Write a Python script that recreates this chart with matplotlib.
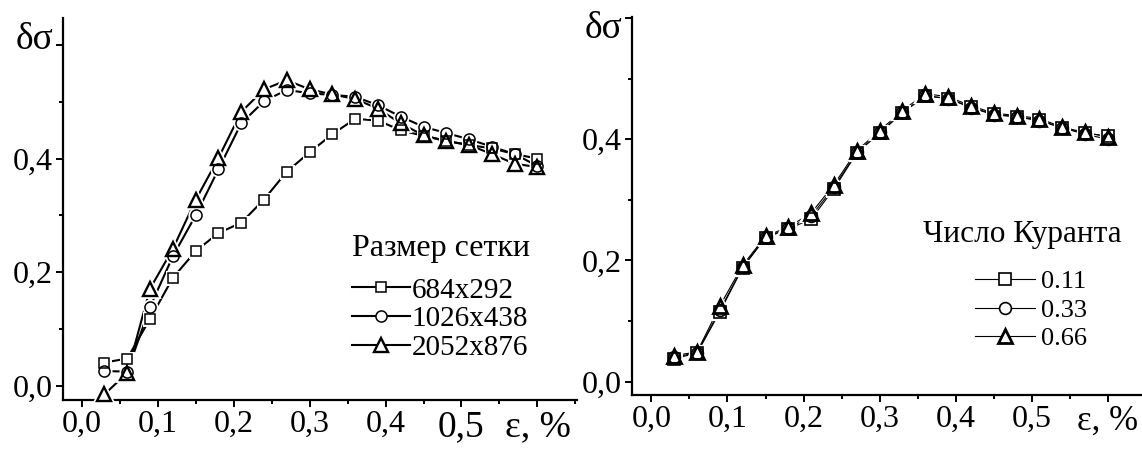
import matplotlib
matplotlib.use("Agg")
import matplotlib.pyplot as plt
from matplotlib.lines import Line2D
from matplotlib.ticker import MultipleLocator
from matplotlib.transforms import offset_copy

plt.rcParams["font.family"] = ["Liberation Serif", "DejaVu Serif"]

# strain, %
strain = [0.03, 0.06, 0.09, 0.12, 0.15, 0.18, 0.21, 0.24, 0.27, 0.30,
          0.33, 0.36, 0.39, 0.42, 0.45, 0.48, 0.51, 0.54, 0.57, 0.60]

# mesh-size study
grid_labels = ["684x292", "1026x438", "2052x876"]
grid_684 = [0.041, 0.048, 0.118, 0.190, 0.237, 0.269, 0.287, 0.328, 0.377, 0.411,
            0.443, 0.470, 0.467, 0.450, 0.440, 0.431, 0.424, 0.418, 0.408, 0.400]
grid_1026 = [0.026, 0.025, 0.139, 0.228, 0.300, 0.381, 0.462, 0.501, 0.521, 0.515,
             0.512, 0.509, 0.494, 0.474, 0.456, 0.445, 0.434, 0.421, 0.408, 0.387]
grid_2052 = [-0.015, 0.023, 0.171, 0.241, 0.327, 0.401, 0.482, 0.522, 0.538, 0.522,
             0.513, 0.505, 0.488, 0.462, 0.441, 0.431, 0.424, 0.408, 0.391, 0.385]

# Courant-number study
courant_labels = ["0.11", "0.33", "0.66"]
courant_011 = [0.038, 0.047, 0.115, 0.188, 0.237, 0.252, 0.268, 0.318, 0.377, 0.410,
               0.443, 0.471, 0.467, 0.453, 0.441, 0.437, 0.432, 0.418, 0.410, 0.405]
courant_033 = [0.040, 0.048, 0.118, 0.189, 0.238, 0.253, 0.273, 0.321, 0.378, 0.411,
               0.444, 0.472, 0.467, 0.452, 0.440, 0.437, 0.430, 0.419, 0.408, 0.400]
courant_066 = [0.043, 0.049, 0.125, 0.192, 0.240, 0.255, 0.278, 0.325, 0.381, 0.414,
               0.447, 0.475, 0.470, 0.455, 0.443, 0.439, 0.434, 0.420, 0.411, 0.404]

x_ticks = [0.0, 0.1, 0.2, 0.3, 0.4, 0.5, 0.6]
x_tick_labels = ["0,0", "0,1", "0,2", "0,3", "0,4", "0,5", "ε, %"]
y_ticks = [0.0, 0.2, 0.4, 0.6]
y_tick_labels = ["0,0", "0,2", "0,4", "δσ"]

markers = ["s", "o", "^"]


def style_axes(ax, xlim, ylim, tick_fs):
    ax.set_xlim(*xlim)
    ax.set_ylim(*ylim)
    for side in ("top", "right"):
        ax.spines[side].set_visible(False)
    for side in ("left", "bottom"):
        ax.spines[side].set_linewidth(1.6)
    ax.set_xticks(x_ticks)
    ax.set_xticklabels(x_tick_labels)
    ax.xaxis.set_minor_locator(MultipleLocator(0.05))
    ax.set_yticks(y_ticks)
    ax.set_yticklabels(y_tick_labels)
    ax.yaxis.set_minor_locator(MultipleLocator(0.1))
    ax.tick_params(which="major", direction="out", length=5, width=1.4,
                   labelsize=tick_fs, pad=2)
    ax.tick_params(which="minor", direction="out", length=3, width=1.4)


def shift_label(fig, lab, dy_pt, size):
    lab.set_fontsize(size)
    lab.set_transform(offset_copy(lab.get_transform(), fig=fig, y=dy_pt, units="points"))


def draw_series(ax, y, marker, ms, mew, lw):
    ax.plot(strain, y, color="black", lw=lw, zorder=2)
    # white halo so the connecting line stops short of each symbol
    ax.plot(strain, y, ls="none", marker=marker, ms=ms, mfc="white",
            mec="white", mew=mew + 2.5, zorder=3, clip_on=False)
    ax.plot(strain, y, ls="none", marker=marker, ms=ms, mfc="none",
            mec="black", mew=mew, zorder=4, clip_on=False)


fig = plt.figure(figsize=(11.42, 4.49), dpi=100)

# ---- left panel: mesh size ----
ax1 = fig.add_axes([0.0549, 0.1091, 0.4503, 0.8501])
grid_series = [grid_684, grid_1026, grid_2052]
grid_ms = [7.8, 8.0, 9.5]
grid_mew = [1.1, 1.1, 1.7]
for y, m, ms, mew in zip(grid_series, markers, grid_ms, grid_mew):
    draw_series(ax1, y, m, ms, mew, 1.5)
style_axes(ax1, (-0.025, 0.652), (-0.025, 0.647), 23)
for lab in ax1.get_xticklabels()[-2:]:
    lab.set_fontsize(27)
shift_label(fig, ax1.get_yticklabels()[-1], 6.5, 27)

ax1.text(0.5625, 0.398, "Размер сетки", transform=ax1.transAxes,
         ha="left", va="center", fontsize=23)
handles1 = [Line2D([], [], color="black", lw=1.5, marker=m, ms=ms, mfc="white",
                   mec="black", mew=mew)
            for m, ms, mew in zip(markers, grid_ms, grid_mew)]
ax1.legend(handles1, grid_labels, loc="center left", bbox_to_anchor=(0.562, 0.212),
           frameon=False, fontsize=21, handlelength=2.0, handletextpad=0.05,
           labelspacing=0.08, borderpad=0, borderaxespad=0)

# ---- right panel: Courant number ----
ax2 = fig.add_axes([0.5531, 0.1203, 0.4469, 0.8412])
courant_series = [courant_011, courant_033, courant_066]
courant_ms = [8.5, 8.5, 10.0]
courant_mew = [1.2, 1.2, 2.0]
for y, m, ms, mew in zip(courant_series, markers, courant_ms, courant_mew):
    draw_series(ax2, y, m, ms, mew, 0.8)
style_axes(ax2, (-0.026, 0.645), (-0.022, 0.601), 23)
ax2.get_xticklabels()[-1].set_fontsize(25)
shift_label(fig, ax2.get_yticklabels()[-1], -5, 27)

ax2.text(0.571, 0.4236, "Число Куранта", transform=ax2.transAxes,
         ha="left", va="center", fontsize=22.5)
handles2 = [Line2D([], [], color="black", lw=0.8, marker=m, ms=ms, mfc="white",
                   mec="black", mew=mew)
            for m, ms, mew in zip(markers, courant_ms, courant_mew)]
ax2.legend(handles2, courant_labels, loc="center left", bbox_to_anchor=(0.6727, 0.225),
           frameon=False, fontsize=19, handlelength=2.27, handletextpad=0.25,
           labelspacing=0.19, borderpad=0, borderaxespad=0)

fig.savefig("out.png", dpi=100)
